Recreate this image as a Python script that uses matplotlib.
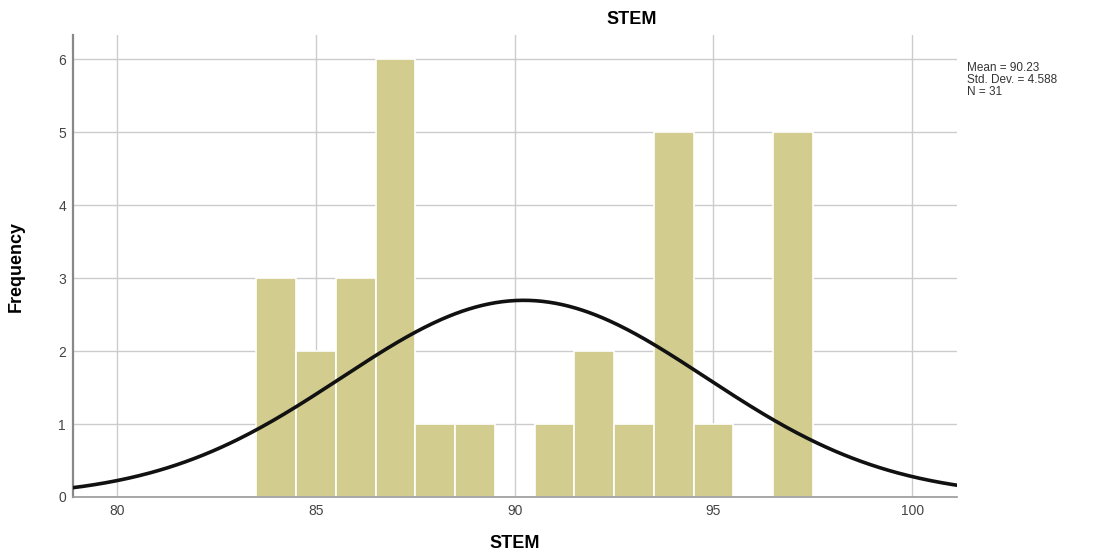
import numpy as np
import matplotlib.pyplot as plt

plt.rcParams['font.family'] = ['Liberation Sans', 'DejaVu Sans']

# histogram counts per integer score
scores = [84, 85, 86, 87, 88, 89, 90, 91, 92, 93, 94, 95, 96, 97]
counts = [3, 2, 3, 6, 1, 1, 0, 1, 2, 1, 5, 1, 0, 5]
mean, sd, n = 90.23, 4.588, 31

fig = plt.figure(figsize=(11.01, 5.59), dpi=100)
ax = fig.add_axes([0.0663, 0.111, 0.803, 0.826])

ax.bar(scores, counts, width=1.0, color='#d2cd8f', edgecolor='white', linewidth=1.2, zorder=2)

# normal curve scaled to counts (bin width 1)
xs = np.linspace(78.8, 101.2, 400)
ys = n / (sd * np.sqrt(2 * np.pi)) * np.exp(-0.5 * ((xs - mean) / sd) ** 2)
ax.plot(xs, ys, color='#111111', lw=2.6, zorder=3)

ax.set_xlim(78.89, 101.13)
ax.set_ylim(0, 6.33)
ax.set_xticks([80, 85, 90, 95, 100])
ax.set_yticks(range(0, 7))
ax.grid(True, color='#cccccc', lw=1, zorder=0)
ax.set_axisbelow(True)
ax.tick_params(length=0, labelsize=10, colors='#444444', pad=5)

for s in ['top', 'right']:
    ax.spines[s].set_visible(False)
ax.spines['left'].set_color('#888888')
ax.spines['left'].set_linewidth(1.6)
ax.spines['bottom'].set_color('#999999')
ax.spines['bottom'].set_linewidth(1.2)

ax.set_xlabel('STEM', fontsize=13, fontweight='bold', labelpad=12)
ax.set_ylabel('Frequency', fontsize=13, fontweight='bold', labelpad=24)
fig.text(632 / 1101, 1 - 20 / 559, 'STEM', ha='center', va='center', fontsize=13, fontweight='bold')

fig.text(967 / 1101, 1 - 80 / 559, 'Mean = 90.23\nStd. Dev. = 4.588\nN = 31',
         ha='left', va='center', fontsize=8.5, color='#333333', linespacing=1.0)

fig.savefig('out.png', dpi=100)
